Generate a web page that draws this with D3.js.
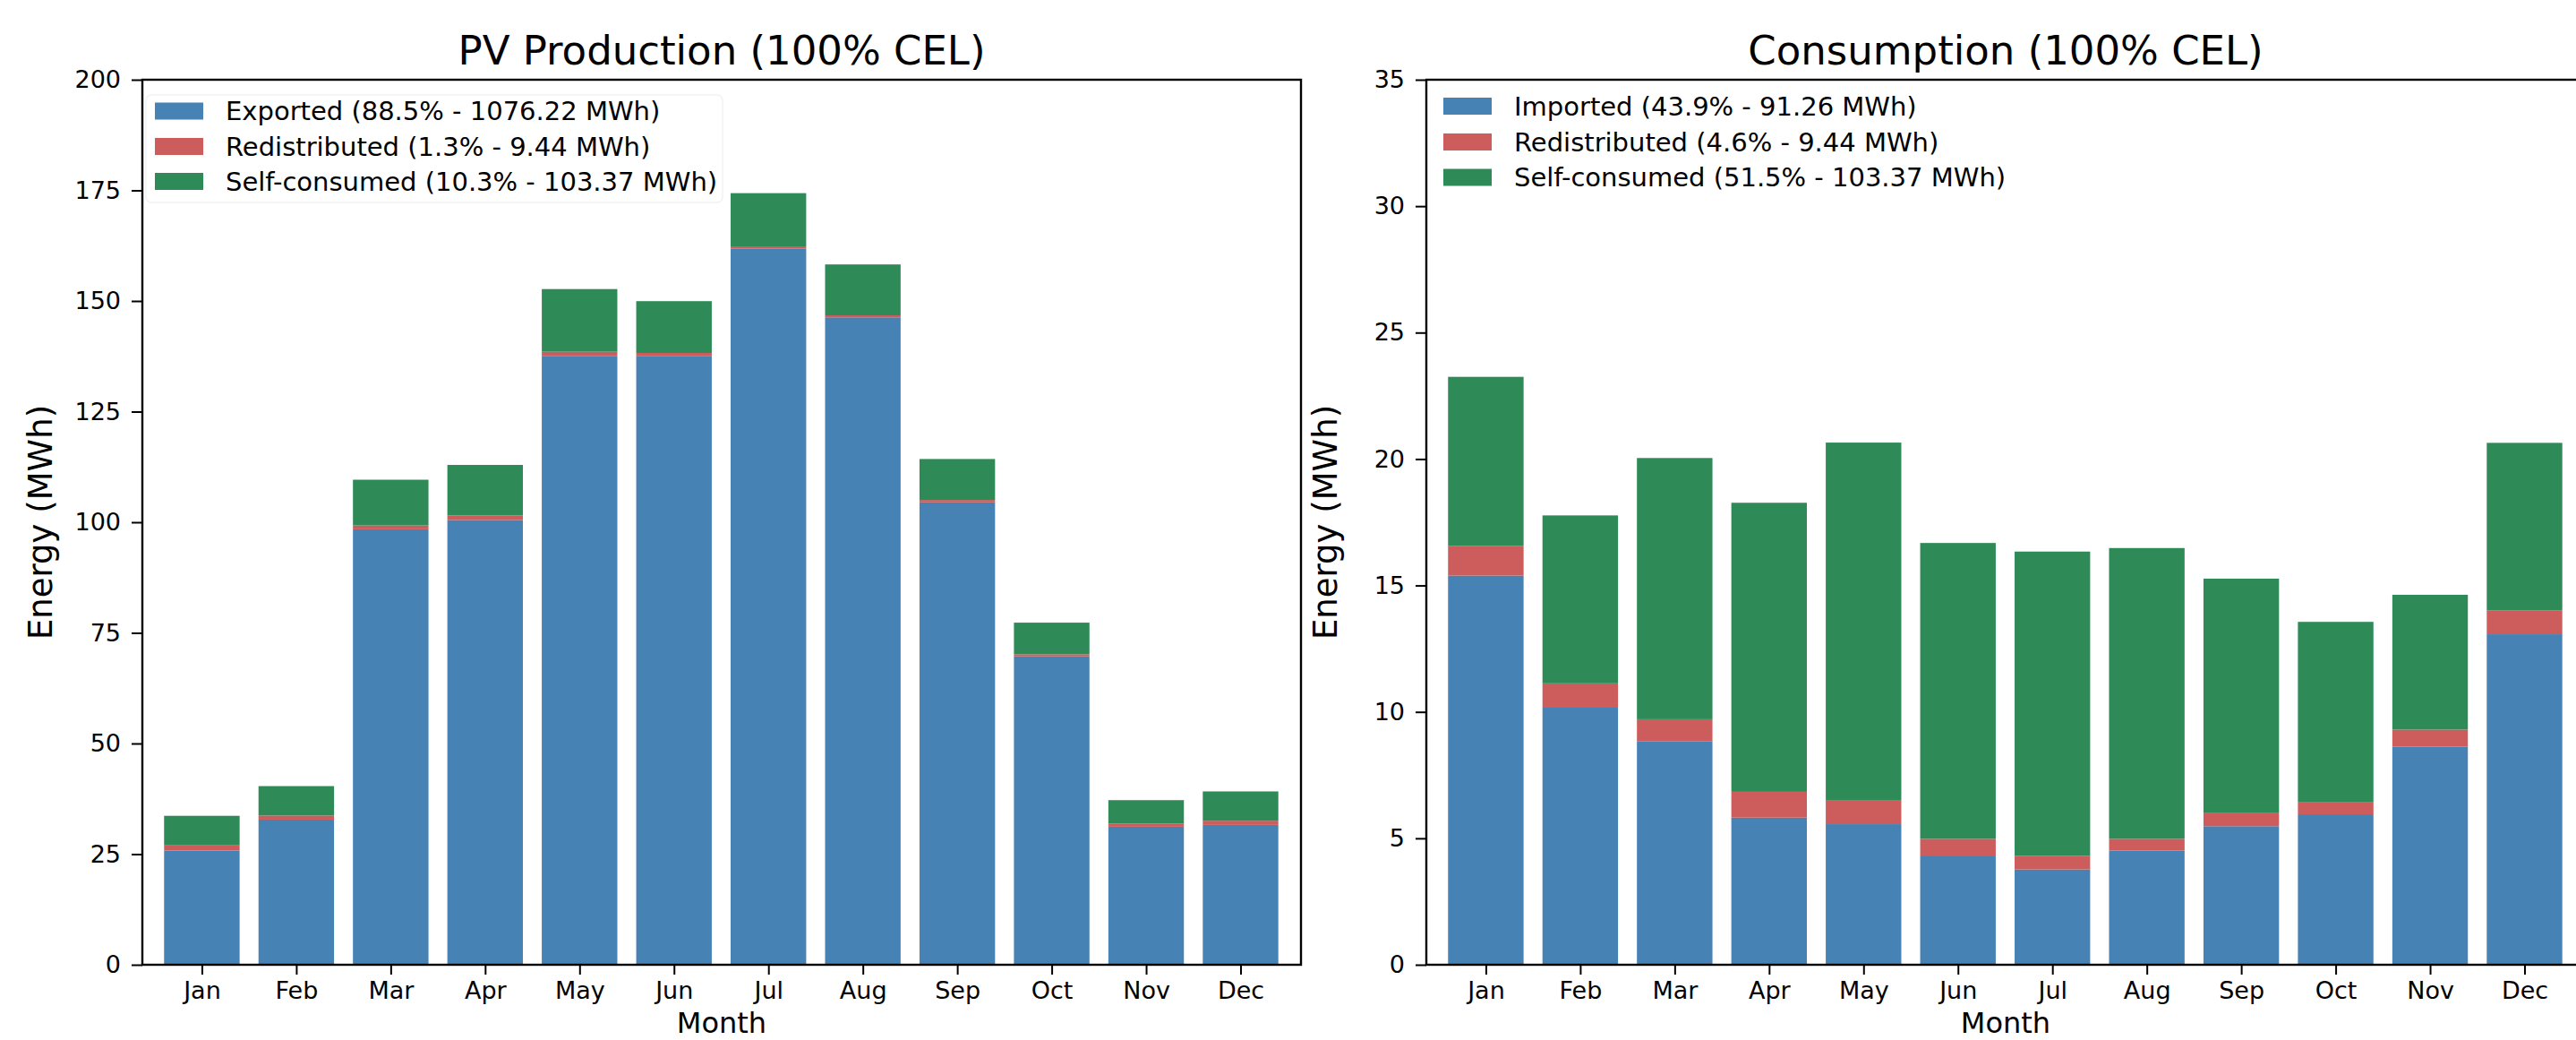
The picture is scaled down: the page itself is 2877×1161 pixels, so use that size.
<!DOCTYPE html>
<html>
<head>
<meta charset="utf-8">
<script src="https://cdn.jsdelivr.net/npm/d3@7"></script>
<style>
  html, body { margin: 0; padding: 0; background: #ffffff; }
  svg { display: block; }
  text { font-family: "DejaVu Sans", sans-serif; fill: #000; }
</style>
</head>
<body>
<script>
// ---------------- DATA ----------------
const months = ["Jan","Feb","Mar","Apr","May","Jun","Jul","Aug","Sep","Oct","Nov","Dec"];

// PV production (MWh)
const pvExported = [25.8, 32.8, 98.4, 100.5, 137.6, 137.6, 161.8, 146.3, 104.5, 69.7, 31.2, 31.6];
// Shared between both charts (MWh)
const redistributed = [1.18, 0.93, 0.88, 1.02, 0.93, 0.66, 0.54, 0.46, 0.54, 0.47, 0.67, 0.95];
const selfConsumed  = [6.68, 6.64, 10.33, 11.43, 14.16, 11.70, 12.03, 11.50, 9.25, 7.14, 5.33, 6.62];
// Consumption imported (MWh)
const imported = [15.39, 10.20, 8.83, 5.82, 5.56, 4.32, 3.77, 4.52, 5.48, 5.95, 8.63, 13.07];

const pvTicks   = [0, 25, 50, 75, 100, 125, 150, 175, 200];
const consTicks = [0, 5, 10, 15, 20, 25, 30, 35];

const pvTitle   = "PV Production (100% CEL)";
const consTitle = "Consumption (100% CEL)";
const pvLegend   = ["Exported (88.5% - 1076.22 MWh)", "Redistributed (1.3% - 9.44 MWh)", "Self-consumed (10.3% - 103.37 MWh)"];
const consLegend = ["Imported (43.9% - 91.26 MWh)", "Redistributed (4.6% - 9.44 MWh)", "Self-consumed (51.5% - 103.37 MWh)"];
const xLabel = "Month";
const yLabel = "Energy (MWh)";

const colors = ["#4682B4", "#CD5C5C", "#2E8B57"];

// ---------------- LAYOUT ----------------
const W = 2877, H = 1161;
const svg = d3.select("body").append("svg").attr("width", W).attr("height", H);

const plotTop = 89, plotBottom = 1077, plotW = 1294;

function drawChart(cfg) {
  const left = cfg.left, right = left + plotW;
  const g = svg.append("g");

  const x = d3.scaleLinear().domain([-0.63, 11.64]).range([left, right]);
  const y = d3.scaleLinear().domain([0, cfg.yMax]).range([plotBottom, plotTop]);
  const bw = x(0.8) - x(0);

  const rows = months.map((m, i) => ({ i, a: cfg.series[0][i], b: cfg.series[1][i], c: cfg.series[2][i] }));
  const stack = d3.stack().keys(["a", "b", "c"])(rows);

  stack.forEach((layer, k) => {
    g.append("g").selectAll("rect").data(layer).join("rect")
      .attr("x", d => x(d.data.i) - bw / 2)
      .attr("width", bw)
      .attr("y", d => y(d[1]))
      .attr("height", d => y(d[0]) - y(d[1]))
      .attr("fill", colors[k]);
  });

  // Axes
  const yAxis = d3.axisLeft(y).tickValues(cfg.ticks).tickSize(12).tickPadding(12).tickFormat(d3.format("d"));
  const ya = g.append("g").attr("transform", `translate(${left},0)`).call(yAxis);
  ya.select(".domain").remove();
  ya.selectAll(".tick line").attr("stroke", "#000").attr("stroke-width", 2);
  ya.selectAll(".tick text").attr("font-size", 27).attr("font-family", "DejaVu Sans").attr("fill", "#000");

  const xAxis = d3.axisBottom(x).tickValues(d3.range(12)).tickSize(11).tickPadding(8).tickFormat(i => months[i]);
  const xa = g.append("g").attr("transform", `translate(0,${plotBottom})`).call(xAxis);
  xa.select(".domain").remove();
  xa.selectAll(".tick line").attr("stroke", "#000").attr("stroke-width", 2);
  xa.selectAll(".tick text").attr("font-size", 27).attr("font-family", "DejaVu Sans").attr("fill", "#000");

  // frame
  g.append("rect").attr("x", left).attr("y", plotTop).attr("width", plotW).attr("height", plotBottom - plotTop)
    .attr("fill", "none").attr("stroke", "#000").attr("stroke-width", 2.4);

  // Title
  g.append("text").attr("x", (left + right) / 2).attr("y", 72).attr("text-anchor", "middle")
    .attr("font-size", 45).text(cfg.title);

  // Axis labels
  g.append("text").attr("x", (left + right) / 2).attr("y", 1153).attr("text-anchor", "middle")
    .attr("font-size", 32).text(xLabel);
  g.append("text").attr("transform", `translate(${cfg.yLabelX},${(plotTop + plotBottom) / 2}) rotate(-90)`)
    .attr("text-anchor", "middle").attr("font-size", 37).text(yLabel);

  // Legend
  const lg = g.append("g");
  if (cfg.legendFrame) {
    lg.append("rect").attr("x", cfg.legendFrame[0]).attr("y", cfg.legendFrame[1])
      .attr("width", cfg.legendFrame[2]).attr("height", cfg.legendFrame[3])
      .attr("fill", "#fff").attr("fill-opacity", 0.8).attr("stroke", "#f2f2f2").attr("stroke-width", 1.5).attr("rx", 6);
  }
  cfg.legend.forEach((label, k) => {
    const cy = cfg.legendY[k];
    lg.append("rect").attr("x", cfg.legendX).attr("y", cy - 9.5).attr("width", 54).attr("height", 19).attr("fill", colors[k]);
    lg.append("text").attr("x", cfg.legendX + 79).attr("y", cy + 10).attr("font-size", 29).text(label);
  });
}

drawChart({
  left: 159, yMax: 200, ticks: pvTicks, title: pvTitle,
  series: [pvExported, redistributed, selfConsumed],
  legend: pvLegend, legendX: 173, legendY: [124, 163.5, 202.5],
  legendFrame: [163, 106, 644, 120],
  yLabelX: 58
});

drawChart({
  left: 1593, yMax: 35, ticks: consTicks, title: consTitle,
  series: [imported, redistributed, selfConsumed],
  legend: consLegend, legendX: 1612, legendY: [118.5, 158.5, 198],
  legendFrame: null,
  yLabelX: 1493
});
</script>
</body>
</html>
